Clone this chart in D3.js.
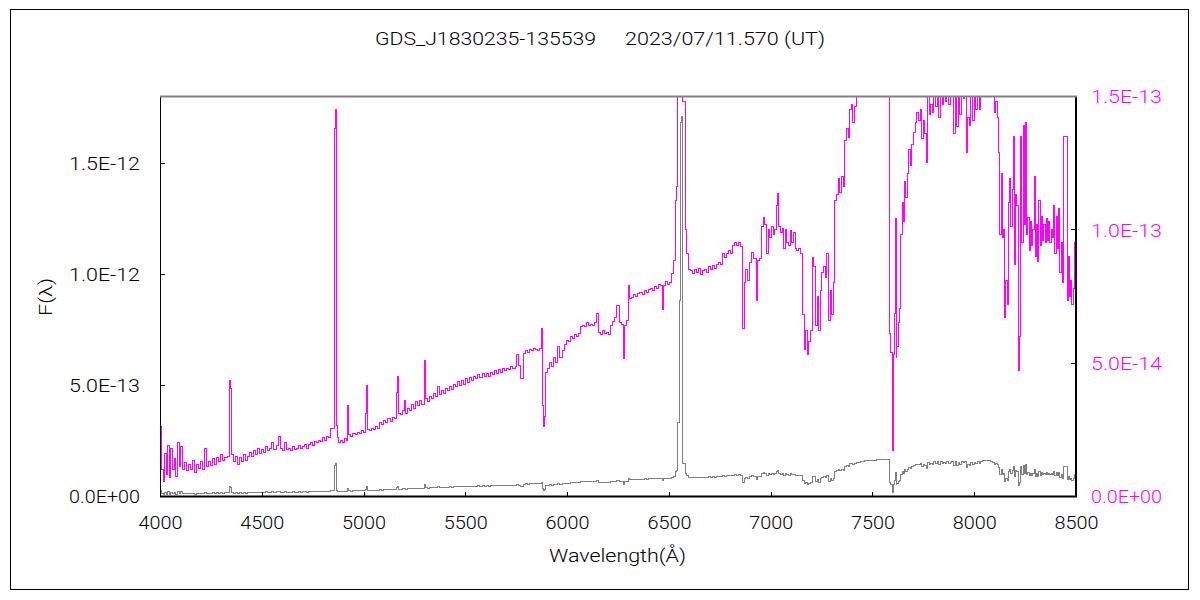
<!DOCTYPE html>
<html><head><meta charset="utf-8">
<script src="https://cdn.jsdelivr.net/npm/d3@7"></script>
<style>
body{margin:0;background:#fff}
svg{display:block}
text{font-family:Roboto,"Liberation Sans",Arial,sans-serif;font-weight:300}
</style>
</head><body>
<svg id="c" width="1200" height="600"></svg>
<script>
const titleParts = ["GDS_J1830235-135539", "2023/07/11.570 (UT)"];
const xLabel = "Wavelength(Å)";
const yLabel = "F(λ)";
const xTicks = [4000, 4500, 5000, 5500, 6000, 6500, 7000, 7500, 8000, 8500];
const leftTicks = [0, 5e-13, 1e-12, 1.5e-12];
const rightTicks = [0, 5e-14, 1e-13, 1.5e-13];
const fluxUnit = 1e-14;

const wavelength = [
4000,4008,4015,4022,4030,4038,4046,4054,4062,4070,
4078,4086,4094,4102,4110,4120,4130,4140,4150,4160,
4170,4180,4190,4200,4210,4220,4228,4238,4248,4258,
4268,4278,4288,4298,4308,4318,4332,4340,4345,4350,
4360,4370,4380,4390,4400,4410,4420,4430,4440,4450,
4460,4470,4480,4490,4500,4510,4520,4530,4540,4550,
4560,4570,4580,4590,4600,4610,4620,4630,4640,4650,
4660,4670,4680,4690,4700,4710,4720,4730,4740,4750,
4760,4770,4780,4790,4800,4810,4820,4830,4840,4855,
4858,4862,4867,4872,4878,4885,4895,4905,4915,4922,
4928,4938,4948,4958,4968,4978,4988,4998,5010,5014,
5019,5030,5040,5050,5060,5070,5080,5090,5100,5110,
5120,5130,5140,5150,5160,5166,5172,5180,5190,5200,
5206,5216,5226,5236,5246,5256,5266,5276,5286,5298,
5305,5315,5325,5335,5345,5355,5365,5372,5382,5392,
5402,5412,5422,5432,5442,5452,5462,5472,5482,5492,
5502,5512,5522,5532,5542,5552,5562,5572,5582,5592,
5602,5612,5622,5632,5642,5652,5662,5672,5682,5692,
5702,5712,5722,5732,5745,5752,5760,5770,5785,5795,
5805,5815,5825,5835,5845,5855,5865,5872,5878,5884,
5890,5895,5905,5915,5925,5935,5945,5955,5965,5975,
5985,5995,6005,6015,6025,6035,6045,6055,6065,6075,
6085,6095,6105,6115,6125,6135,6145,6152,6162,6172,
6182,6192,6202,6212,6222,6232,6245,6255,6265,6275,
6282,6292,6300,6308,6318,6328,6338,6348,6358,6368,
6378,6388,6398,6408,6418,6428,6438,6448,6458,6468,
6474,6484,6494,6504,6512,6522,6532,6538,6544,6550,
6555,6559,6563,6568,6583,6588,6594,6604,6614,6624,
6634,6644,6654,6664,6674,6684,6694,6704,6714,6724,
6734,6744,6754,6764,6774,6784,6794,6804,6814,6824,
6834,6844,6854,6862,6870,6878,6888,6898,6908,6918,
6928,6936,6946,6956,6964,6972,6980,6988,6996,7004,
7012,7020,7028,7034,7040,7048,7056,7064,7072,7080,
7088,7096,7104,7112,7120,7128,7136,7146,7156,7164,
7172,7180,7188,7196,7204,7212,7220,7228,7236,7244,
7252,7260,7268,7276,7284,7292,7300,7308,7316,7324,
7332,7340,7348,7356,7364,7372,7380,7388,7396,7404,
7412,7420,7440,7460,7480,7500,7520,7540,7560,7575,
7585,7591,7597,7604,7608,7612,7616,7620,7626,7632,
7640,7646,7652,7658,7664,7670,7678,7686,7694,7702,
7710,7718,7726,7734,7742,7750,7758,7764,7770,7778,
7786,7794,7802,7810,7818,7826,7834,7842,7850,7858,
7866,7874,7882,7890,7898,7906,7914,7922,7930,7938,
7946,7954,7962,7968,7976,7984,7992,8000,8008,8016,
8024,8032,8040,8050,8060,8070,8080,8090,8098,8106,
8114,8120,8126,8132,8138,8144,8150,8156,8162,8168,
8174,8180,8186,8192,8198,8204,8210,8216,8222,8228,
8234,8240,8246,8252,8258,8264,8270,8276,8282,8288,
8294,8300,8306,8312,8318,8324,8330,8336,8342,8348,
8354,8360,8366,8372,8378,8384,8390,8396,8402,8408,
8414,8420,8428,8434,8440,8456,8462,8468,8474,8480,
8486,8492,8498,8500
];

// F(lambda) in units of 1e-14 erg/s/cm2/A
const flux = [
2.6,1.0,0.55,1.6,0.8,1.9,0.7,1.8,1.0,1.4,
0.75,2.0,1.1,1.85,1.0,1.25,0.95,1.2,1.0,1.35,
0.9,1.2,1.05,1.3,1.0,1.8,1.1,1.3,1.15,1.4,
1.2,1.45,1.3,1.55,1.35,1.45,1.5,4.35,4.05,1.55,
1.3,1.5,1.2,1.45,1.3,1.55,1.35,1.5,1.65,1.5,
1.7,1.55,1.8,1.6,1.75,1.65,1.85,1.7,1.8,2.0,
1.75,1.9,2.25,1.8,1.7,2.0,1.75,1.8,1.7,1.85,
1.75,1.8,1.9,1.8,1.85,1.95,1.8,1.95,2.0,1.9,
2.05,2.0,2.1,2.05,2.2,2.1,2.25,2.2,2.55,12.3,
13.8,14.5,2.65,2.2,2.0,2.1,2.0,2.15,2.1,3.4,
2.3,2.25,2.35,2.3,2.4,2.35,2.45,2.4,3.1,4.15,
2.5,2.45,2.55,2.5,2.6,2.55,2.75,2.7,2.85,2.75,
2.9,2.8,2.95,2.9,3.9,4.5,3.1,3.05,3.2,3.6,
3.1,3.3,3.2,3.45,3.3,3.55,3.4,3.6,3.45,5.1,
3.65,3.55,3.75,3.65,3.85,3.75,4.1,3.8,3.95,3.85,
4.05,3.95,4.1,4.0,4.2,4.1,4.3,4.15,4.35,4.2,
4.4,4.25,4.45,4.35,4.5,4.4,4.55,4.45,4.6,4.5,
4.6,4.5,4.65,4.55,4.7,4.6,4.75,4.65,4.8,4.7,
4.8,4.75,4.85,4.8,4.85,5.3,4.9,4.4,5.35,5.45,
5.4,5.5,5.45,5.55,5.5,5.45,5.55,6.3,3.4,2.6,
3.0,4.65,4.8,5.0,4.85,5.2,5.0,5.6,5.2,5.45,
5.7,5.85,5.8,6.0,5.9,6.05,6.0,6.1,6.35,6.4,
6.35,6.5,6.4,6.45,6.4,6.5,6.85,6.15,6.05,6.2,
6.1,6.15,6.05,6.4,6.55,6.7,7.15,6.5,6.45,5.15,
6.4,6.6,7.9,7.4,7.45,7.55,7.5,7.6,7.65,7.55,
7.7,7.65,7.75,7.8,7.7,7.85,7.8,7.95,7.9,7.0,
7.9,8.05,7.95,8.0,8.35,8.85,11.1,11.6,33,88,
162,168,171,14.8,10.0,9.1,8.5,8.45,8.35,8.5,
8.4,8.55,8.3,8.45,8.5,8.4,8.6,8.5,8.65,8.55,
8.7,8.75,8.7,9.1,8.95,9.1,9.2,9.1,9.4,9.5,
9.4,9.5,9.35,6.3,8.0,8.5,8.1,8.75,9.15,8.9,
7.35,8.85,8.9,10.1,10.45,10.2,9.1,10.0,9.7,10.1,
9.8,10.0,10.9,11.35,10.1,9.9,10.05,9.3,10.0,9.5,
9.4,9.95,9.5,9.9,9.3,9.2,9.3,9.1,6.8,5.5,
6.2,5.3,5.8,6.2,8.95,8.6,6.4,7.5,6.2,7.7,
8.4,8.6,8.2,9.1,6.6,7.7,6.8,8.0,11.1,11.3,
11.9,11.4,12.0,11.6,13.35,13.8,13.45,14.5,14.7,14.0,
14.6,15.2,15.5,15.8,16.0,16.2,16.3,16.5,16.6,16.5,
6.1,5.4,1.7,5.3,6.85,10.4,5.2,5.6,6.5,7.05,
9.8,11.0,10.3,11.8,11.2,12.1,13.0,12.4,13.2,13.65,
14.0,14.4,14.1,14.5,13.4,14.1,13.6,12.5,15.3,14.3,
14.7,14.4,15.5,14.6,15.4,14.2,15.6,14.7,15.3,14.8,
15.5,14.7,15.2,15.6,13.6,15.4,13.85,15.1,14.3,15.5,
14.9,15.7,12.9,14.2,13.9,15.2,14.1,15.3,14.5,15.6,
14.5,15.4,15.8,16.0,16.1,15.8,15.5,15.3,14.4,14.8,
14.2,12.9,9.8,12.1,9.7,10.0,6.7,8.1,7.2,11.0,
11.9,10.1,11.5,13.5,8.7,11.3,10.9,4.7,6.0,13.5,
9.5,13.9,10.2,14.0,9.8,10.45,9.2,10.3,9.4,10.0,
12.0,9.0,10.2,8.8,11.1,9.4,10.5,9.6,10.2,9.5,
10.4,9.6,10.3,9.5,10.0,9.7,10.9,9.1,10.5,9.3,
10.8,8.4,9.5,8.0,13.5,7.35,9.0,7.5,8.1,7.2,
7.8,9.5,7.8,7.8
];

const spectrum = d3.zip(wavelength, flux);

const svg = d3.select("#c");
const plot = {left: 160, right: 1076, top: 96, bottom: 496};
const x = d3.scaleLinear([4000, 8500], [plot.left, plot.right]);
const yL = d3.scaleLinear([0, 1.8e-12], [plot.bottom, plot.top]);
const yR = d3.scaleLinear([0, 1.5e-13], [plot.bottom, plot.top]);
const FONT = 'Roboto,"Liberation Sans",Arial,sans-serif';

function fmtE(v) {
  if (v === 0) return "0.0E+00";
  const parts = v.toExponential(1).split("e");
  const sign = parts[1][0];
  const n = parts[1].slice(1).padStart(2, "0");
  return parts[0] + "E" + sign + n;
}

// outer frame
svg.append("rect").attr("x", 10.5).attr("y", 9.5).attr("width", 1178).attr("height", 580)
  .attr("fill", "none").attr("stroke", "#000").attr("stroke-width", 1);

// title
const titleX = [375, 625], titleW = [221, 200];
titleParts.forEach((t, i) => {
  svg.append("text").attr("x", titleX[i]).attr("y", 45).attr("font-size", 19)
    .attr("textLength", titleW[i]).attr("lengthAdjust", "spacingAndGlyphs")
    .attr("fill", "#000").text(t);
});

// clip
svg.append("clipPath").attr("id", "clip").append("rect")
  .attr("x", plot.left).attr("y", plot.top)
  .attr("width", plot.right - plot.left).attr("height", plot.bottom - plot.top);

const lineL = d3.line().x(d => x(d[0])).y(d => yL(d[1] * fluxUnit)).curve(d3.curveStepAfter);
const lineR = d3.line().x(d => x(d[0])).y(d => yR(d[1] * fluxUnit)).curve(d3.curveStepAfter);

const g = svg.append("g").attr("clip-path", "url(#clip)");
g.append("path").datum(spectrum).attr("d", lineL).attr("fill", "none")
  .attr("stroke", "#808080").attr("stroke-width", 1).attr("shape-rendering", "crispEdges");
g.append("path").datum(spectrum).attr("d", lineR).attr("fill", "none")
  .attr("stroke", "#FF00FF").attr("stroke-width", 1).attr("shape-rendering", "crispEdges");

// axes
function styleAxis(sel, w, color) {
  sel.select(".domain").remove();
  sel.attr("font-family", FONT);
  sel.selectAll(".tick line").attr("stroke", "#000").attr("stroke-width", 1).attr("shape-rendering", "crispEdges");
  sel.selectAll(".tick text").attr("font-size", 19).attr("fill", color)
    .attr("font-family", FONT).attr("font-weight", 300)
    .attr("textLength", w).attr("lengthAdjust", "spacingAndGlyphs");
}

const axL = svg.append("g").attr("transform", `translate(${plot.left},0)`)
  .call(d3.axisLeft(yL).tickValues(leftTicks).tickSize(-5).tickPadding(20).tickFormat(fmtE));
styleAxis(axL, 71, "#000");
axL.selectAll(".tick text").attr("dy", "0.36em");

const axR = svg.append("g").attr("transform", `translate(${plot.right},0)`)
  .call(d3.axisRight(yR).tickValues(rightTicks).tickSize(-5).tickPadding(15).tickFormat(fmtE));
styleAxis(axR, 71, "#FF00FF");
axR.selectAll(".tick text").attr("dy", "0.36em");

const axB = svg.append("g").attr("transform", `translate(0,${plot.bottom})`)
  .call(d3.axisBottom(x).tickValues(xTicks).tickSize(-4).tickPadding(20).tickFormat(d3.format("d")));
styleAxis(axB, 44, "#000");

// plot frame
svg.append("line").attr("x1", plot.left + 0.5).attr("x2", plot.left + 0.5).attr("y1", plot.top).attr("y2", plot.bottom + 1)
  .attr("stroke", "#000").attr("stroke-width", 1);
svg.append("line").attr("x1", plot.left).attr("x2", plot.right + 1).attr("y1", plot.bottom + 0.5).attr("y2", plot.bottom + 0.5)
  .attr("stroke", "#000").attr("stroke-width", 2);
svg.append("line").attr("x1", plot.right).attr("x2", plot.right).attr("y1", plot.top).attr("y2", plot.bottom + 1)
  .attr("stroke", "#000").attr("stroke-width", 2);
svg.append("line").attr("x1", plot.left).attr("x2", plot.right + 1).attr("y1", plot.top + 0.5).attr("y2", plot.top + 0.5)
  .attr("stroke", "#808080").attr("stroke-width", 2);

// axis titles
svg.append("text").attr("x", 617.5).attr("y", 562).attr("text-anchor", "middle").attr("font-size", 19)
  .attr("textLength", 137).attr("lengthAdjust", "spacingAndGlyphs").text(xLabel);
svg.append("text").attr("transform", "translate(52,297) rotate(-90)").attr("text-anchor", "middle")
  .attr("font-size", 19).attr("textLength", 38).attr("lengthAdjust", "spacingAndGlyphs").text(yLabel);
</script>
</body></html>
